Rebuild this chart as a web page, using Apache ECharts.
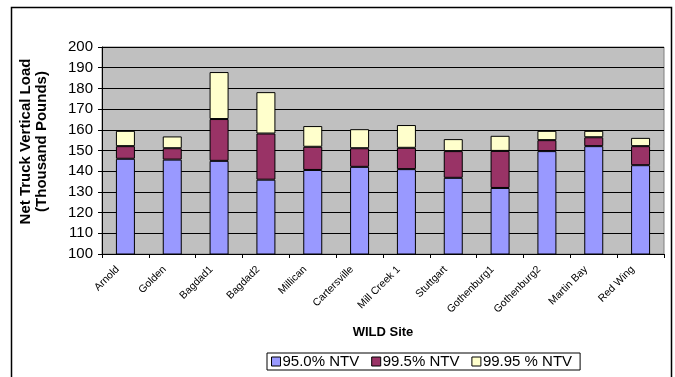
<!DOCTYPE html>
<html>
<head>
<meta charset="utf-8">
<script src="https://cdn.jsdelivr.net/npm/echarts@6/dist/echarts.min.js"></script>
<style>
  html, body { margin: 0; padding: 0; background: #fff; }
  #chart { width: 675px; height: 377px; }
</style>
</head>
<body>
<div id="chart"></div>
<script>
// WILD sites along the x axis
const sites = ['Arnold', 'Golden', 'Bagdad1', 'Bagdad2', 'Millican', 'Cartersville',
  'Mill Creek 1', 'Stuttgart', 'Gothenburg1', 'Gothenburg2', 'Martin Bay', 'Red Wing'];

// 95.0% NTV load (thousand pounds)
const ntv950 = [146.0, 145.6, 145.0, 135.9, 140.6, 142.1, 141.0, 136.8, 131.9, 149.7, 152.1, 142.9];
// increment from 95.0% up to 99.5% NTV
const ntv995Inc = [6.1, 5.5, 20.2, 22.3, 11.2, 9.0, 10.3, 12.9, 17.9, 5.3, 4.3, 9.2];
// increment from 99.5% up to 99.95% NTV
const ntv9995Inc = [7.4, 5.7, 22.7, 20.0, 10.0, 9.2, 11.0, 5.8, 7.3, 4.5, 3.1, 4.0];

const yTicks = { min: 100, max: 200, interval: 10 };

const font = 'Arial, "Liberation Sans", sans-serif';

function barSeries(name, data, color) {
  return {
    name: name,
    type: 'bar',
    stack: 'ntv',
    data: data,
    barWidth: 19,
    itemStyle: { color: color, borderColor: '#000', borderWidth: 1 }
  };
}

const chart = echarts.init(document.getElementById('chart'), null, { renderer: 'canvas' });
chart.setOption({
  animation: false,
  backgroundColor: '#fff',
  textStyle: { fontFamily: font },
  grid: {
    left: 102, right: 11, top: 47, bottom: 123,
    show: true, backgroundColor: '#C0C0C0', borderColor: '#808080', borderWidth: 1
  },
  graphic: [{
    type: 'rect',
    shape: { x: 11.5, y: 7.5, width: 660, height: 420 },
    style: { fill: 'none', stroke: '#000', lineWidth: 1.5 },
    silent: true
  }],
  legend: {
    left: 267, top: 353,
    itemWidth: 9, itemHeight: 9, itemGap: 12,
    padding: [1, 8, 1, 4],
    borderColor: '#000', borderWidth: 1,
    icon: 'rect',
    itemStyle: { borderColor: '#000', borderWidth: 1 },
    textStyle: { fontFamily: font, fontSize: 15, color: '#000', padding: [0, 0, 0, -3] },
    data: ['95.0% NTV', '99.5% NTV', '99.95 % NTV']
  },
  xAxis: {
    type: 'category',
    data: sites,
    name: 'WILD Site',
    nameLocation: 'middle',
    nameGap: 72,
    nameTextStyle: { fontFamily: font, fontSize: 13, fontWeight: 'bold', color: '#000' },
    axisLine: { lineStyle: { color: '#000', width: 1 } },
    axisTick: { show: true, length: 4, lineStyle: { color: '#000' } },
    axisLabel: {
      rotate: 45, fontSize: 10.5, color: '#000', fontFamily: font, margin: 6,
      padding: [0, 11, 0, 0]
    }
  },
  yAxis: {
    type: 'value',
    min: yTicks.min, max: yTicks.max, interval: yTicks.interval,
    name: 'Net Truck Vertical Load\n(Thousand Pounds)',
    nameLocation: 'middle',
    nameGap: 52,
    nameTextStyle: {
      fontFamily: font, fontSize: 15, fontWeight: 'bold', color: '#000',
      lineHeight: 16, padding: [0, 0, 0, 18]
    },
    axisLine: { show: true, lineStyle: { color: '#000', width: 1 } },
    axisTick: { show: true, length: 4, lineStyle: { color: '#000' } },
    axisLabel: { fontSize: 15, color: '#000', fontFamily: font, margin: 9 },
    splitLine: { show: true, lineStyle: { color: '#000', width: 1 } }
  },
  series: [
    barSeries('95.0% NTV', ntv950, '#9999FF'),
    barSeries('99.5% NTV', ntv995Inc, '#993366'),
    barSeries('99.95 % NTV', ntv9995Inc, '#FFFFCC')
  ]
});
</script>
</body>
</html>
